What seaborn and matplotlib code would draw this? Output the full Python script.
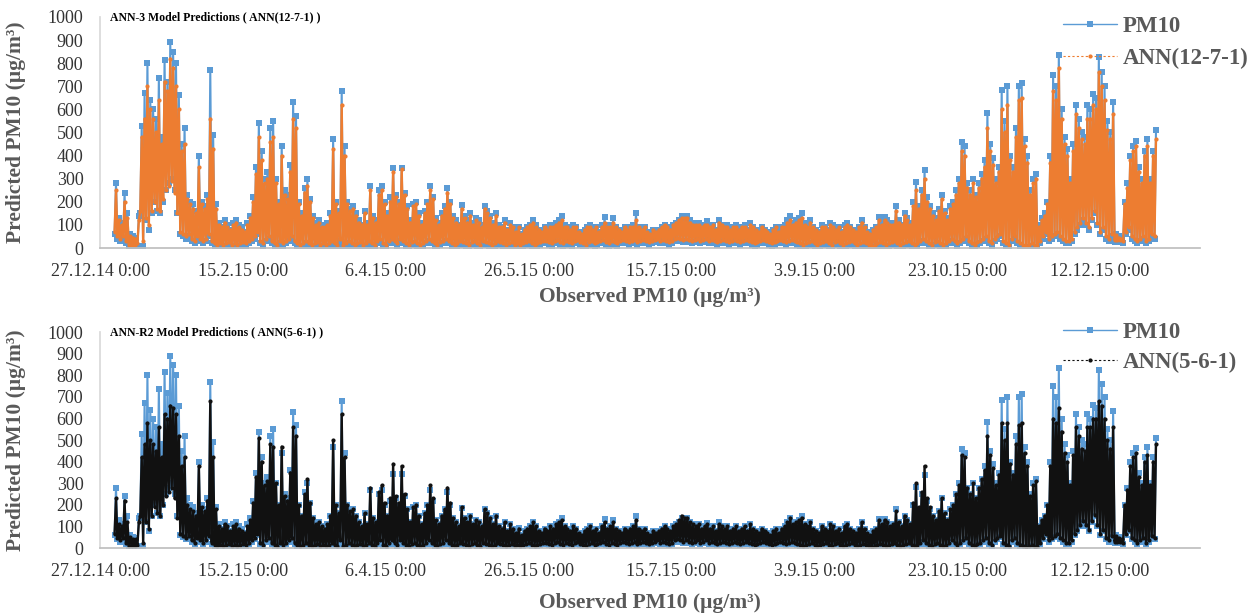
import numpy as np
import pandas as pd
import matplotlib
matplotlib.use("Agg")
import matplotlib.pyplot as plt
import matplotlib.dates as mdates
from matplotlib.lines import Line2D
import seaborn as sns

# daily high / low of the hourly series (1.1.2015 - 31.12.2015)
pm10_high = [
    280,130,110,240,150,60,50,45,140,530, 670,800,640,600,560,735,480,815,720,890, 850,800,660,450,520,230,200,190,160,400, 200,
    180,230,770,490,190,110,90,120,100,80, 110,120,100,90,70,110,140,220,350,540, 420,300,330,520,550,300,200,440,
    250,230,360,630,570,200,150,260,300,210, 140,110,120,100,90,110,150,470,200,160, 680,440,200,170,180,150,120,100,160,110, 270,
    140,120,250,270,200,150,220,345,230,200, 345,240,180,120,190,200,150,110,160,200, 270,220,130,110,150,180,260,200,140,120,
    100,185,140,120,150,110,130,120,100,180, 160,140,110,150,100,90,120,80,110,90, 70,92,60,80,90,100,120,100,80,70, 90,
    80,100,90,110,120,140,100,90,80,100, 90,70,60,80,90,100,80,90,70,100, 135,90,100,130,90,80,70,90,80,90,
    100,150,90,80,90,70,60,80,70,80, 90,100,90,80,100,110,120,140,130,140, 120,110,100,110,90,100,115,90,100,80, 120,
    100,90,100,80,90,100,80,90,100,80, 110,90,80,70,90,80,70,60,80,90, 70,90,100,120,140,110,120,130,150,110, 100,
    120,90,80,70,100,90,80,110,100,80, 90,70,100,110,90,80,70,90,120,90, 70,60,80,90,135,110,135,120,100,110,
    180,120,100,150,130,110,200,285,180,250, 337,220,180,150,130,170,230,160,130,180, 200,250,300,460,440,280,250,300,230,280, 320,
    380,584,450,390,300,350,684,550,700,400, 350,520,702,714,470,400,250,300,320,100, 130,150,200,400,750,700,835,600,480,430,
    300,450,620,560,500,480,620,600,665,650, 827,760,700,550,500,633,60,50,45,200, 280,400,440,465,350,300,420,470,300,420, 510,
]
pm10_low = [
    60,40,30,40,20,5,5,5,10,150, 10,120,80,150,200,160,150,200,250,280, 300,250,150,60,50,40,50,30,20,40, 30,
    20,30,50,20,10,5,10,5,10,15, 5,10,5,10,15,10,20,30,40,60, 20,10,30,40,20,10,5,20,
    10,20,30,40,20,10,5,10,20,10, 5,10,15,5,10,5,10,20,10,5, 30,5,10,20,10,5,10,15,5,10, 20,
    10,5,20,30,10,5,20,30,20,10, 30,20,10,5,15,20,10,5,10,20, 30,20,10,5,15,20,30,20,10,5,
    10,20,15,10,5,15,20,10,5,20, 15,10,5,10,20,15,10,5,10,15, 5,10,5,10,15,20,10,5,10,15, 20,
    20,15,10,20,25,15,10,20,15,10, 20,25,15,10,5,15,20,10,15,20, 25,15,10,20,15,10,20,25,20,15,
    20,25,15,20,25,20,15,20,25,30, 20,25,20,15,20,30,35,30,25,30, 25,20,25,30,20,25,30,20,25,20, 15,
    20,25,20,15,20,25,20,15,20,25, 20,15,10,15,20,25,20,15,10,15, 20,25,20,15,20,25,20,15,10,5, 10,
    15,20,10,5,10,15,20,10,5,15, 20,10,5,10,15,20,10,5,10,15, 10,5,0,5,10,15,10,5,10,15,
    20,10,5,10,15,20,10,5,10,20, 30,20,10,5,15,20,10,5,10,20, 30,20,10,20,30,40,20,10,5,15, 20,
    30,40,20,10,30,40,50,20,10,5, 30,40,20,10,5,0,5,10,0,5, 20,40,60,30,40,50,60,40,30,20,
    20,30,60,80,100,120,100,80,120,150, 100,60,80,40,30,50,25,25,25,20, 60,80,40,30,20,30,40,20,30,50, 40,
]
ann12_high = [
    250,120,100,200,130,50,45,40,120,480, 560,700,600,560,500,640,450,720,680,820, 780,700,600,420,450,210,190,170,150,350, 190,
    170,210,560,430,170,100,90,110,90,80, 100,110,90,80,70,100,130,200,320,480, 380,280,300,460,480,280,190,400,
    230,210,330,560,520,190,140,240,270,200, 130,100,110,90,90,100,140,430,190,150, 620,400,190,160,170,140,110,100,150,100, 250,
    130,110,230,250,190,140,200,330,220,190, 340,230,170,110,180,190,140,100,150,190, 250,210,120,100,140,170,240,190,130,110,
    100,170,130,110,140,100,120,110,90,170, 150,130,100,140,90,90,110,80,100,90, 70,90,60,80,90,100,110,90,80,70, 90,
    80,90,90,100,110,120,90,90,80,90, 90,70,60,80,90,90,80,90,70,90, 110,90,90,110,90,80,70,90,80,90,
    90,120,90,80,90,70,60,80,70,80, 90,100,90,80,100,110,120,130,130,130, 110,100,100,100,90,100,100,90,100,80, 110,
    100,90,90,80,90,90,80,90,90,80, 100,90,80,70,90,80,70,60,80,90, 70,90,90,110,120,100,110,120,130,100, 90,
    110,90,80,70,90,90,80,100,90,80, 90,70,90,100,90,80,70,90,110,90, 70,60,80,90,120,100,120,110,100,100,
    160,110,100,140,120,100,180,250,170,230, 300,200,170,140,120,160,210,150,120,170, 190,230,280,420,400,260,230,280,220,260, 300,
    350,520,420,360,280,330,600,500,620,380, 330,480,640,650,440,370,230,280,300,90, 120,140,190,370,680,640,780,560,450,400,
    280,420,580,520,470,450,560,560,620,600, 760,700,640,510,470,580,55,45,40,190, 260,380,420,440,330,280,400,440,280,400, 470,
]
ann12_low = [
    70,50,40,50,30,15,15,15,20,160, 30,130,100,160,200,170,160,210,250,270, 290,240,150,70,60,50,60,40,30,50, 40,
    30,40,60,30,20,15,20,15,20,25, 15,20,15,20,25,20,30,40,50,70, 30,20,40,50,30,20,15,30,
    20,30,40,50,30,20,15,20,30,20, 15,20,25,15,20,15,20,30,20,15, 40,15,20,30,20,15,20,25,15,20, 30,
    20,15,30,40,20,15,30,40,30,20, 40,30,20,15,25,30,20,15,20,30, 40,30,20,15,25,30,40,30,20,15,
    20,30,25,20,15,25,30,20,15,30, 25,20,15,20,30,25,20,15,20,25, 15,20,15,20,25,30,20,15,20,25, 30,
    30,25,20,30,35,25,20,30,25,20, 30,35,25,20,15,25,30,20,25,30, 35,25,20,30,25,20,30,35,30,25,
    30,35,25,30,35,30,25,30,35,40, 30,35,30,25,30,40,45,40,35,40, 35,30,35,40,30,35,40,30,35,30, 25,
    30,35,30,25,30,35,30,25,30,35, 30,25,20,25,30,35,30,25,20,25, 30,35,30,25,30,35,30,25,20,15, 20,
    25,30,20,15,20,25,30,20,15,25, 30,20,15,20,25,30,20,15,20,25, 20,15,10,15,20,25,20,15,20,25,
    30,20,15,20,25,30,20,15,20,30, 40,30,20,15,25,30,20,15,20,30, 40,30,20,30,40,50,30,20,15,25, 30,
    40,50,30,20,40,50,60,30,20,15, 40,50,30,20,15,10,15,20,10,15, 30,50,70,40,50,60,70,50,40,30,
    30,40,70,90,110,130,110,90,130,160, 110,70,90,50,40,60,35,35,35,30, 70,90,50,40,30,40,50,30,40,60, 50,
]
ann5_high = [
    230,110,100,220,120,50,40,40,120,420, 480,580,500,480,450,560,420,620,600,660, 650,620,520,380,420,200,180,170,150,380, 190,
    170,220,680,420,180,100,90,110,100,80, 100,110,90,80,70,100,130,210,330,510, 400,290,310,480,470,300,200,470,
    240,220,350,560,520,200,150,250,320,210, 140,110,120,100,90,110,150,500,200,160, 620,420,200,170,180,150,120,100,160,110, 280,
    140,120,260,290,210,150,230,390,240,210, 380,250,180,120,190,200,150,110,160,200, 290,230,130,110,150,180,280,210,140,120,
    100,190,140,120,150,110,130,120,100,180, 160,140,110,150,100,90,120,80,110,90, 70,90,60,80,90,100,120,100,80,70, 90,
    80,100,90,110,120,130,100,90,80,100, 90,70,60,80,90,100,80,90,70,100, 120,90,100,120,90,80,70,90,80,90,
    100,130,90,80,90,70,60,80,70,80, 90,100,90,80,100,110,130,150,140,140, 120,110,100,110,90,100,110,90,100,80, 110,
    100,90,100,80,90,100,80,90,100,80, 110,90,80,70,90,80,70,60,80,90, 70,90,100,120,140,110,120,130,140,110, 100,
    120,90,80,70,100,90,80,110,100,80, 90,70,100,110,90,80,70,90,120,90, 70,60,80,90,130,110,130,120,100,110,
    170,120,100,150,130,110,210,300,190,260, 380,230,190,150,130,170,230,160,130,180, 200,250,290,430,420,280,250,300,230,280, 320,
    360,520,430,370,290,340,580,500,580,390, 340,480,570,580,440,380,240,290,310,100, 130,150,200,380,600,580,650,540,440,400,
    290,430,560,520,460,450,560,560,600,600, 680,660,600,500,460,560,55,45,40,200, 270,380,420,440,330,290,400,430,290,400, 480,
]
ann5_low = [
    65,45,35,45,25,10,10,10,15,150, 25,120,90,150,190,160,150,200,240,260, 280,230,140,65,55,45,55,35,25,45, 35,
    25,35,55,25,15,10,15,10,15,20, 10,15,10,15,20,15,25,35,45,65, 25,15,35,45,25,15,10,25,
    15,25,35,45,25,15,10,15,25,15, 10,15,20,10,15,10,15,25,15,10, 35,10,15,25,15,10,15,20,10,15, 25,
    15,10,25,35,15,10,25,35,25,15, 35,25,15,10,20,25,15,10,15,25, 35,25,15,10,20,25,35,25,15,10,
    15,25,20,15,10,20,25,15,10,25, 20,15,10,15,25,20,15,10,15,20, 10,15,10,15,20,25,15,10,15,20, 25,
    25,20,15,25,30,20,15,25,20,15, 25,30,20,15,10,20,25,15,20,25, 30,20,15,25,20,15,25,30,25,20,
    25,30,20,25,30,25,20,25,30,35, 25,30,25,20,25,35,40,35,30,35, 30,25,30,35,25,30,35,25,30,25, 20,
    25,30,25,20,25,30,25,20,25,30, 25,20,15,20,25,30,25,20,15,20, 25,30,25,20,25,30,25,20,15,10, 15,
    20,25,15,10,15,20,25,15,10,20, 25,15,10,15,20,25,15,10,15,20, 15,10,5,10,15,20,15,10,15,20,
    25,15,10,15,20,25,15,10,15,25, 35,25,15,10,20,25,15,10,15,25, 35,25,15,25,35,45,25,15,10,20, 25,
    35,45,25,15,35,45,55,25,15,10, 35,45,25,15,10,5,10,15,5,10, 25,45,65,35,45,55,65,45,35,25,
    25,35,65,85,105,125,105,85,125,155, 105,65,85,45,35,55,30,30,30,25, 65,85,45,35,25,35,45,25,35,55, 45,
]

tick_dates = ["2014-12-27", "2015-02-15", "2015-04-06", "2015-05-26",
              "2015-07-15", "2015-09-03", "2015-10-23", "2015-12-12"]
tick_labels = ["27.12.14 0:00", "15.2.15 0:00", "6.4.15 0:00", "26.5.15 0:00",
               "15.7.15 0:00", "3.9.15 0:00", "23.10.15 0:00", "12.12.15 0:00"]

for s in [pm10_high, pm10_low, ann12_high, ann12_low, ann5_high, ann5_low]:
    assert len(s) == 365, len(s)

days = pd.date_range("2015-01-01", periods=365, freq="D")


def daily_frame(low, high):
    times, vals = [], []
    for d, lo, hi in zip(days, low, high):
        times += [d + pd.Timedelta(hours=2), d + pd.Timedelta(hours=14)]
        vals += [lo, hi]
    return pd.DataFrame({"time": times, "value": vals})


obs = daily_frame(pm10_low, pm10_high)
ann12 = daily_frame(ann12_low, ann12_high)
ann5 = daily_frame(ann5_low, ann5_high)

BLUE = "#5B9BD5"
ORANGE = "#ED7D31"
GREY_TXT = "#595959"

sns.set_theme(style="white")
plt.rcParams["font.family"] = ["Liberation Serif", "DejaVu Serif"]

fig = plt.figure(figsize=(12.6, 6.13), dpi=100)
ax1 = fig.add_axes([0.0794, 0.5954, 0.873, 0.377])
ax2 = fig.add_axes([0.0794, 0.106, 0.873, 0.352])

# axis, prediction frame, colour, legend name, title, xlabel y, legend spacing, legend y shift
panels = [
    (ax1, ann12, ORANGE, "ANN(12-7-1)", "ANN-3 Model Predictions ( ANN(12-7-1) )", -0.169, 0.5, 0.002),
    (ax2, ann5, "#111111", "ANN(5-6-1)", "ANN-R2 Model Predictions ( ANN(5-6-1) )", -0.208, 0.35, 0.016),
]

for ax, pred, pcol, pname, title, xlab_y, lspace, lshift in panels:
    sns.lineplot(data=obs, x="time", y="value", ax=ax, color=BLUE, linewidth=1.5,
                 marker="s", markersize=4.8, markeredgewidth=0, legend=False)
    sns.lineplot(data=pred, x="time", y="value", ax=ax, color=pcol, linewidth=1.7,
                 marker="o", markersize=3, markeredgewidth=0, legend=False)

    ax.set_ylim(0, 1000)
    ax.set_yticks(range(0, 1001, 100))
    ax.set_xlim(mdates.date2num(pd.Timestamp("2014-12-27")),
                mdates.date2num(pd.Timestamp("2016-01-16")))
    ax.set_xticks(mdates.date2num(pd.to_datetime(tick_dates)))
    ax.set_xticklabels(tick_labels)
    ax.tick_params(length=0, labelsize=13, labelcolor="#333333")
    ax.tick_params(axis="x", pad=11)
    ax.tick_params(axis="y", pad=12)

    for side in ["top", "right"]:
        ax.spines[side].set_visible(False)
    ax.spines["left"].set_color("#D9D9D9")
    ax.spines["bottom"].set_color("#BFBFBF")

    ax.set_ylabel("Predicted PM10 (μg/m³)", fontsize=15.5, fontweight="bold", color=GREY_TXT)
    ax.set_xlabel("Observed PM10 (μg/m³)", fontsize=15.5, fontweight="bold", color=GREY_TXT)
    ax.yaxis.set_label_coords(-0.067, 0.5)
    ax.xaxis.set_label_coords(0.5, xlab_y)

    ax.text(0.009, 1.0, title, transform=ax.transAxes, fontsize=8.5,
            fontweight="bold", va="center", ha="left", color="black")

    handles = [
        Line2D([], [], color=BLUE, lw=1, marker="s", ms=5, mew=0),
        Line2D([], [], color=pcol, lw=0.8, ls=(0, (2, 2)), marker="o", ms=3, mew=0),
    ]
    bbox = ax.get_position()
    ax.legend(handles, ["PM10", pname], loc="upper left",
              bbox_to_anchor=(0.8437, bbox.y1 + lshift), bbox_transform=fig.transFigure,
              frameon=False, borderpad=0, borderaxespad=0, handlelength=2.35,
              handletextpad=0.26, labelspacing=lspace,
              prop={"size": 16.5, "weight": "bold"}, labelcolor=GREY_TXT)

fig.savefig("out.png", dpi=100, facecolor="white")
